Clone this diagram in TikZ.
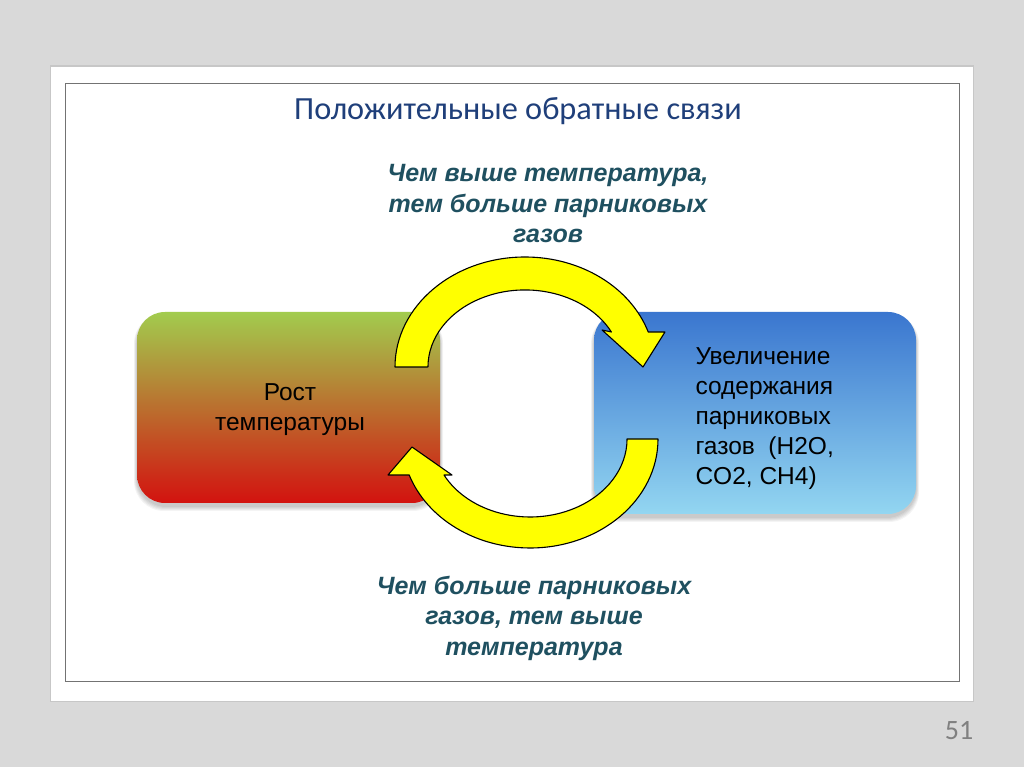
\documentclass[tikz,border=0pt]{standalone}
\usepackage{fontspec}
\setmainfont{Liberation Sans}
\newfontfamily\titlefont{Carlito}
\definecolor{bgray}{HTML}{D9D9D9}
\definecolor{titleblue}{HTML}{1F3F7A}
\definecolor{tealtext}{HTML}{1F5060}
\definecolor{gtop}{HTML}{A2CC4E}
\definecolor{gmid}{HTML}{BC8A3C}
\definecolor{gbot}{HTML}{D3120F}
\definecolor{btop}{HTML}{3A76CF}
\definecolor{bmid}{HTML}{5E9FE0}
\definecolor{bbot}{HTML}{93D6F1}
\definecolor{arrowyellow}{HTML}{FFFF00}
\tikzset{
  box/.style={rounded corners=28pt},
  softshadow/.style={fill=black, fill opacity=0.045, rounded corners=30pt},
  cyclearrow/.style={fill=arrowyellow, draw=black, line width=1.1pt, line join=round},
  note/.style={font=\bfseries\itshape\fontsize{25}{30.5}\selectfont, text=tealtext, align=center},
  boxtext/.style={font=\fontsize{24.5}{30}\selectfont, text=black}
}
\begin{document}
\begin{tikzpicture}[x=1pt,y=1pt]
\useasboundingbox (0,0) rectangle (1024,767);
\fill[bgray] (0,0) rectangle (1024,767);
% slide panel
\fill[black!22] (50,65) rectangle (974,702);
\fill[white] (51,66) rectangle (973,700);
\draw[black!55, line width=1pt] (65,85) rectangle (959,683);
% title
\node[font=\titlefont\fontsize{32.3}{38}\selectfont, text=titleblue] (title) at (518,656) {Положительные обратные связи};
% soft shadows
\foreach \d in {1,2,3,4,5} {
  \fill[softshadow] (137-\d*0.6,264-3-\d) rectangle (440+\d*0.6,455-3+\d*0.3);
  \fill[softshadow] (594-\d*0.6,253-3-\d) rectangle (916+\d*0.6,455-3+\d*0.3);
}
% boxes
\shade[box, top color=gtop, middle color=gmid, bottom color=gbot] (137,264) rectangle (440,455);
\node[boxtext, align=center] (rost) at (290,357) {Рост\\температуры};
\shade[box, top color=btop, middle color=bmid, bottom color=bbot] (594,253) rectangle (916,455);
\node[boxtext, align=left, anchor=west] (gases) at (692,348) {Увеличение\\содержания\\парниковых\\газов~~(H2O,\\CO2, CH4)};
% circular arrows
\filldraw[cyclearrow] (395,400) arc[start angle=180,end angle=18.55,x radius=130,y radius=110]
  -- (665,435) -- (643,400) -- (602,437) -- (611.4,435)
  arc[start angle=27,end angle=180,x radius=97,y radius=77] -- cycle;
\filldraw[cyclearrow] (658,328) arc[start angle=0,end angle=-160.7,x radius=128,y radius=109]
  -- (388,292) -- (412,320) -- (452,292) -- (444,292)
  arc[start angle=-152.5,end angle=0,x radius=97,y radius=78] -- cycle;
% notes
\node[note] (topnote) at (548,563) {Чем выше температура,\\тем больше парниковых\\газов};
\node[note] (botnote) at (534,149) {Чем больше парниковых\\газов, тем выше\\температура};
% page number
\node[font=\titlefont\fontsize{28}{32}\selectfont, text=black!50] (page) at (959,36) {51};
\end{tikzpicture}
\end{document}
